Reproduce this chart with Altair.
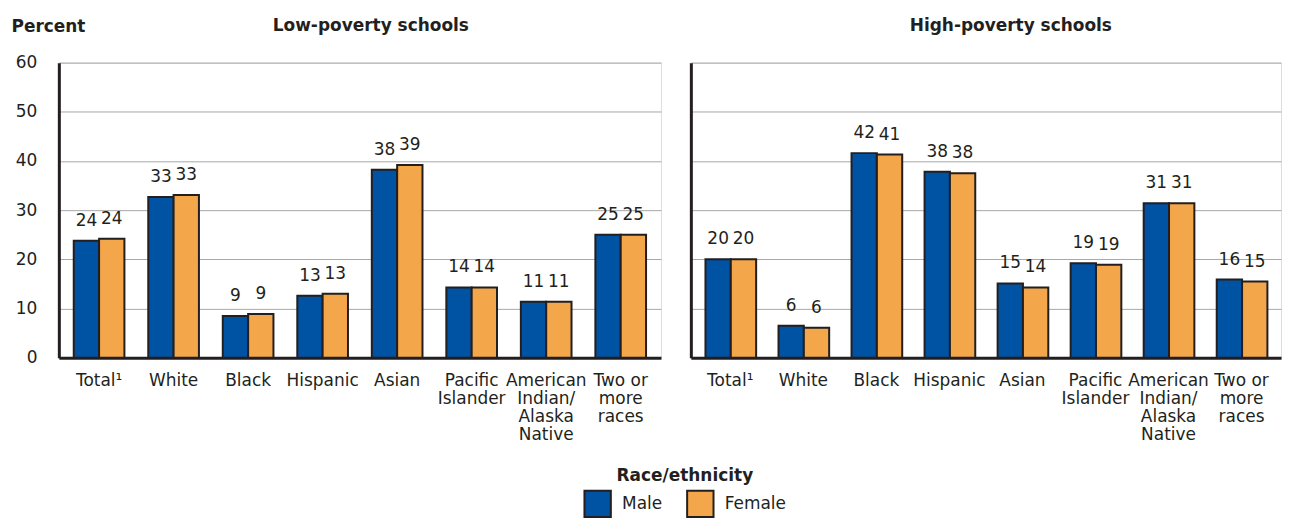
import altair as alt
import pandas as pd

categories = ["Total¹", "White", "Black", "Hispanic", "Asian", "Pacific|Islander",
              "American|Indian/|Alaska|Native", "Two or|more|races"]
genders = ["Male", "Female"]

low_male = [23.8, 32.7, 8.5, 12.6, 38.2, 14.3, 11.4, 25.0]
low_female = [24.2, 33.1, 8.9, 13.0, 39.2, 14.3, 11.4, 25.0]
low_male_labels = [24, 33, 9, 13, 38, 14, 11, 25]
low_female_labels = [24, 33, 9, 13, 39, 14, 11, 25]

high_male = [20.0, 6.5, 41.6, 37.8, 15.1, 19.2, 31.4, 15.9]
high_female = [20.0, 6.1, 41.3, 37.5, 14.3, 18.9, 31.4, 15.5]
high_male_labels = [20, 6, 42, 38, 15, 19, 31, 16]
high_female_labels = [20, 6, 41, 38, 14, 19, 31, 15]

FONT = "DejaVu Sans"
INK = "#231f20"
FS = 17


def make_df(male, female, ml, fl):
    rows = []
    for c, m, f, a, b in zip(categories, male, female, ml, fl):
        rows.append({"cat": c, "gender": "Male", "value": m, "label": a})
        rows.append({"cat": c, "gender": "Female", "value": f, "label": b})
    return pd.DataFrame(rows)


color = alt.Color(
    "gender:N",
    sort=genders,
    scale=alt.Scale(domain=genders, range=["#0052a3", "#f4a64b"]),
    legend=alt.Legend(
        title="Race/ethnicity",
        orient="none",
        legendX=526,
        legendY=407,
        direction="horizontal",
        titleAnchor="middle",
        titleFontSize=FS,
        titleFontWeight="bold",
        titleColor=INK,
        titlePadding=4,
        labelFontSize=FS,
        labelColor=INK,
        symbolType="square",
        symbolSize=700,
        symbolStrokeColor=INK,
        symbolStrokeWidth=2,
        symbolOpacity=1,
        columnPadding=20,
        labelOffset=10,
    ),
)


def panel(df, title, first, width, title_dx, title_offset):
    if first:
        yaxis = alt.Axis(
            values=[0, 10, 20, 30, 40, 50, 60],
            grid=True, gridColor="#a8a8a8", gridWidth=1,
            domain=True, domainColor=INK, domainWidth=3,
            ticks=False,
            labels=True, labelFontSize=FS, labelColor=INK, labelPadding=22,
            title="Percent", titleAngle=0, titleX=-48, titleY=-36,
            titleAlign="left", titleBaseline="middle",
            titleFontSize=FS, titleFontWeight="bold", titleColor=INK,
        )
    else:
        yaxis = alt.Axis(
            values=[0, 10, 20, 30, 40, 50, 60],
            grid=True, gridColor="#a8a8a8", gridWidth=1,
            domain=True, domainColor=INK, domainWidth=3,
            ticks=False, labels=False, title=None,
        )
    base = alt.Chart(df).encode(
        x=alt.X(
            "cat:N", sort=categories,
            scale=alt.Scale(paddingInner=0.32),
            axis=alt.Axis(
                title=None, labelAngle=0, labelExpr="split(datum.label, '|')",
                labelFontSize=FS, labelColor=INK, labelPadding=23,
                labelLineHeight=18, labelBaseline="middle",
                domain=True, domainColor=INK, domainWidth=3, ticks=False,
            ),
        ),
        xOffset=alt.XOffset("gender:N", sort=genders),
        y=alt.Y("value:Q", scale=alt.Scale(domain=[0, 60]), axis=yaxis),
    )
    bars = base.mark_bar(stroke=INK, strokeWidth=2).encode(color=color)
    text = base.mark_text(baseline="alphabetic", dy=-15, fontSize=FS, color=INK).encode(
        text="label:Q"
    )
    return alt.layer(bars, text).properties(
        width=width,
        height=296,
        title=alt.TitleParams(
            title, fontSize=FS, fontWeight="bold", color=INK, anchor="middle",
            dx=title_dx, offset=title_offset,
        ),
    )


left = panel(make_df(low_male, low_female, low_male_labels, low_female_labels),
             "Low-poverty schools", True, 604, 11, -17)
right = panel(make_df(high_male, high_female, high_male_labels, high_female_labels),
              "High-poverty schools", False, 592, 25, 28)

chart = (
    alt.hconcat(left, right, spacing=28)
    .properties(padding={"left": 2, "top": 7, "right": 0, "bottom": 0})
    .configure_view(stroke=None)
    .configure(font=FONT)
)

chart.save("out.html", embed_options={"renderer": "svg", "actions": False})
